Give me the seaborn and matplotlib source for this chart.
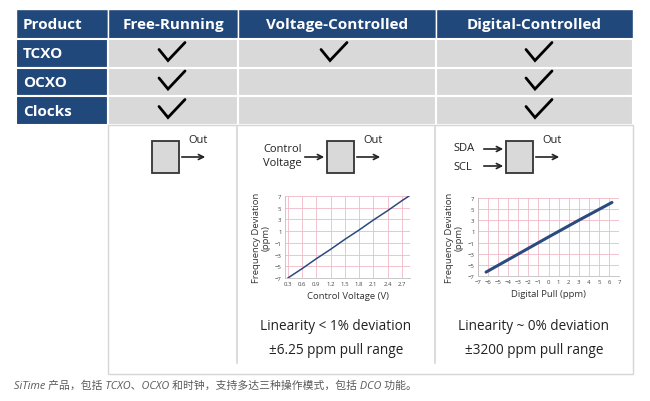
import matplotlib.pyplot as plt
import matplotlib.patches as mpatches
import numpy as np
import pandas as pd
import seaborn as sns

# ── data ──────────────────────────────────────────────────────────
products = ["TCXO", "OCXO", "Clocks"]
modes = ["Free-Running", "Voltage-Controlled", "Digital-Controlled"]
support = [
    [1, 1, 1],
    [1, 0, 1],
    [1, 0, 1],
]

control_voltage = [0.3, 0.6, 0.9, 1.2, 1.5, 1.8, 2.1, 2.4, 2.7, 2.85]
vc_deviation = [-7.0, -5.4, -3.7, -2.1, -0.4, 1.2, 2.9, 4.5, 6.2, 7.0]
vc_xticks = [0.3, 0.6, 0.9, 1.2, 1.5, 1.8, 2.1, 2.4, 2.7]

digital_pull = [-6.2, -3, 0, 3, 6.3]
dc_deviation = [-6.3, -3.05, 0, 3.0, 6.2]
dc_xticks = list(range(-7, 8))

dev_yticks = [-7, -5, -3, -1, 1, 3, 5, 7]

notes = [
    ("Linearity < 1% deviation", "±6.25 ppm pull range"),
    ("Linearity ~ 0% deviation", "±3200 ppm pull range"),
]
caption = "SiTime 产品，包括 TCXO、OCXO 和时钟，支持多达三种操作模式，包括 DCO 功能。"

# ── style ─────────────────────────────────────────────────────────
sns.set_theme(style="white")
plt.rcParams["font.family"] = ["Open Sans", "Noto Sans CJK SC", "DejaVu Sans"]

BLUE = "#21487b"
GRAY = "#d9d9d9"
NAVY = "#2b4a7e"
PINK = "#f0b9c8"

fig = plt.figure(figsize=(6.5, 4.02), dpi=100)
ax = fig.add_axes([0, 0, 1, 1])
ax.set_xlim(0, 650)
ax.set_ylim(402, 0)
ax.axis("off")

# table geometry (pixels)
col_edges = [16, 108, 238, 436, 633]
head_top, head_bot = 10, 40
row_edges = [40, 69, 97, 126]
check_x = [172, 334, 539]

# header row
for i in range(4):
    ax.add_patch(mpatches.Rectangle((col_edges[i], head_top), col_edges[i + 1] - col_edges[i],
                                    head_bot - head_top, facecolor=BLUE, edgecolor="white", lw=1))
ax.text(23, 25, "Product", color="white", fontsize=11, fontweight="bold", va="center", ha="left")
for i, m in enumerate(modes):
    ax.text((col_edges[i + 1] + col_edges[i + 2]) / 2, 25, m, color="white",
            fontsize=11, fontweight="bold", va="center", ha="center")

# product rows
for r, p in enumerate(products):
    y0, y1 = row_edges[r], row_edges[r + 1]
    ax.add_patch(mpatches.Rectangle((col_edges[0], y0), col_edges[1] - col_edges[0], y1 - y0,
                                    facecolor=BLUE, edgecolor="white", lw=1.5))
    ax.text(23, (y0 + y1) / 2, p, color="white", fontsize=11, fontweight="bold",
            va="center", ha="left")
    for c in range(3):
        ax.add_patch(mpatches.Rectangle((col_edges[c + 1], y0), col_edges[c + 2] - col_edges[c + 1],
                                        y1 - y0, facecolor=GRAY, edgecolor="white", lw=1.5))
        if support[r][c]:
            cx, cy = check_x[c], (y0 + y1) / 2
            ax.plot([cx - 13, cx - 4, cx + 13], [cy - 4, cy + 7, cy - 11],
                    color="black", lw=2.0, solid_joinstyle="miter")

# lower white box
ax.add_patch(mpatches.Rectangle((108, 126), 633 - 108, 375 - 126, facecolor="white",
                                edgecolor="#d6d6d6", lw=1))
for x in [237, 435]:
    ax.plot([x, x], [128, 364], color="#dcdcdc", lw=1.5)

# block diagrams
arrow = dict(arrowstyle="->", color="#222222", lw=1.2, mutation_scale=9)
for bx in [152, 327, 506]:
    ax.add_patch(mpatches.Rectangle((bx, 142), 27, 32, facecolor=GRAY, edgecolor="#333333", lw=1.3))
    ax.annotate("", xy=(bx + 56, 158), xytext=(bx + 27, 158), arrowprops=arrow)
    ax.text(bx + 36, 141, "Out", fontsize=8, color="#222222", ha="left", va="center")

ax.text(263, 150, "Control", fontsize=8, color="#222222", ha="left", va="center")
ax.text(263, 164, "Voltage", fontsize=8, color="#222222", ha="left", va="center")
ax.annotate("", xy=(327, 158), xytext=(302, 158), arrowprops=arrow)

ax.text(453, 149, "SDA", fontsize=8, color="#222222", ha="left", va="center")
ax.text(453, 168, "SCL", fontsize=8, color="#222222", ha="left", va="center")
ax.annotate("", xy=(506, 150), xytext=(481, 150), arrowprops=arrow)
ax.annotate("", xy=(506, 167), xytext=(481, 167), arrowprops=arrow)

# linearity notes
for cx, (l1, l2) in zip([336, 534], notes):
    ax.text(cx, 327, l1, fontsize=9.8, color="#222222", ha="center", va="center")
    ax.text(cx, 351, l2, fontsize=9.8, color="#222222", ha="center", va="center")

ax.text(14, 386, caption, fontsize=7.8, color="#5a5a5a", ha="left", va="center",
        style="italic")


# ── pull curves ───────────────────────────────────────────────────
def pull_axes(left, right, top, bottom):
    return fig.add_axes([left / 650, (402 - bottom) / 402, (right - left) / 650, (bottom - top) / 402])


def style_pull(a, xticks, xlabel):
    a.set_yticks(dev_yticks)
    a.set_xticks(xticks)
    a.set_ylim(-7, 7)
    a.grid(True, color=PINK, lw=0.6)
    for s in ["top", "right"]:
        a.spines[s].set_visible(False)
    for s in ["left", "bottom"]:
        a.spines[s].set_color("#bfbfbf")
        a.spines[s].set_linewidth(0.6)
    a.tick_params(labelsize=4.3, colors="#444444", length=0, pad=2.5)
    a.set_xlabel(xlabel, fontsize=6.8, color="#333333", labelpad=3)
    a.set_ylabel("Frequency Deviation\n(ppm)", fontsize=6.8, color="#333333",
                 labelpad=3, linespacing=1.0)
    a.set_facecolor("white")


vc_df = pd.DataFrame({"v": control_voltage, "dev": vc_deviation})
ax1 = pull_axes(285, 410, 197, 279)
sns.lineplot(data=vc_df, x="v", y="dev", ax=ax1, color=NAVY, lw=1.1)
ax1.set_xlim(0.24, 2.87)
style_pull(ax1, vc_xticks, "Control Voltage (V)")

dc_df = pd.DataFrame({"p": digital_pull, "dev": dc_deviation})
ax2 = pull_axes(478, 619, 199, 277)
sns.lineplot(data=dc_df, x="p", y="dev", ax=ax2, color=NAVY, lw=2.2)
ax2.set_xlim(-7, 7)
style_pull(ax2, dc_xticks, "Digital Pull (ppm)")

fig.savefig("out.png", dpi=100)
